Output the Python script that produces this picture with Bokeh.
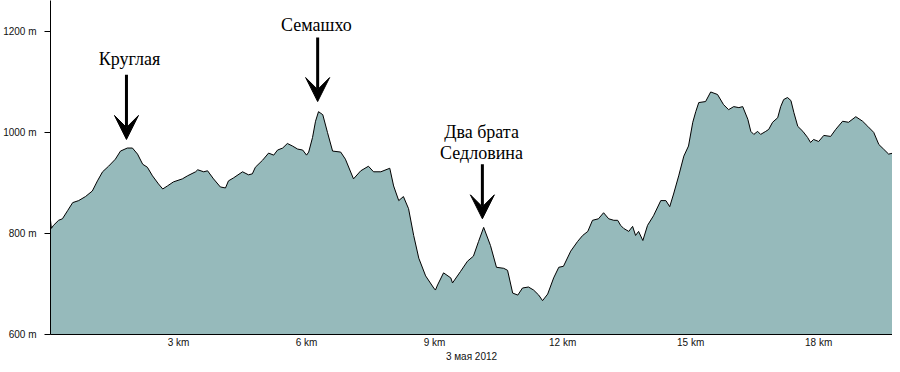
from bokeh.plotting import figure
from bokeh.models import (FixedTicker, PrintfTickFormatter, Arrow, VeeHead, Label, Range1d)
from bokeh.embed import file_html
from bokeh.resources import INLINE

# Elevation profile (distance in km, elevation in m)
dist_km = [0.00, 0.02, 0.07, 0.19, 0.28, 0.40, 0.52, 0.66, 0.82, 0.98, 1.10, 1.22, 1.36, 1.52, 1.64,
           1.80, 1.92, 2.04, 2.16, 2.27, 2.39, 2.53, 2.63, 2.74, 2.88, 3.09, 3.21, 3.40, 3.45, 3.59,
           3.68, 3.82, 3.98, 4.10, 4.17, 4.29, 4.50, 4.64, 4.73, 4.80, 4.97, 5.11, 5.23, 5.32, 5.44,
           5.55, 5.67, 5.79, 5.91, 6.00, 6.05, 6.14, 6.21, 6.28, 6.38, 6.49, 6.61, 6.80, 6.91, 7.10,
           7.27, 7.45, 7.57, 7.74, 7.95, 8.04, 8.16, 8.27, 8.39, 8.51, 8.63, 8.79, 8.98, 9.02, 9.07,
           9.21, 9.38, 9.42, 9.61, 9.77, 9.91, 10.03, 10.15, 10.31, 10.45, 10.62, 10.71, 10.83, 10.95,
           11.06, 11.20, 11.32, 11.44, 11.53, 11.65, 11.79, 11.91, 12.02, 12.19, 12.35, 12.47, 12.59,
           12.70, 12.84, 12.96, 13.08, 13.20, 13.29, 13.36, 13.43, 13.55, 13.64, 13.71, 13.78, 13.88,
           13.99, 14.13, 14.30, 14.42, 14.51, 14.60, 14.72, 14.84, 14.95, 15.05, 15.12, 15.19, 15.35,
           15.47, 15.63, 15.77, 15.89, 16.01, 16.13, 16.22, 16.34, 16.41, 16.48, 16.57, 16.64, 16.76,
           16.83, 16.92, 17.04, 17.11, 17.18, 17.27, 17.35, 17.42, 17.51, 17.63, 17.74, 17.81, 17.88,
           18.00, 18.12, 18.28, 18.40, 18.56, 18.70, 18.87, 19.03, 19.15, 19.29, 19.41, 19.52, 19.64,
           19.74, 19.85, 19.92]
elev_m = [826, 810, 816, 826, 829, 845, 861, 865, 873, 884, 904, 922, 933, 947, 963,
          969, 969, 957, 937, 931, 914, 898, 888, 894, 902, 908, 914, 922, 926, 922,
          924, 908, 892, 890, 904, 910, 922, 916, 918, 931, 945, 959, 955, 965, 969,
          978, 973, 967, 965, 955, 961, 990, 1022, 1041, 1035, 1000, 963, 961, 947, 908,
          924, 933, 922, 922, 929, 894, 865, 873, 849, 796, 751, 716, 692, 688, 698,
          722, 712, 702, 725, 745, 755, 784, 812, 776, 733, 731, 727, 682, 678,
          692, 694, 688, 678, 667, 680, 712, 733, 735, 765, 784, 796, 804,
          826, 829, 841, 829, 826, 826, 816, 810, 804, 814, 796, 804, 786,
          816, 835, 865, 865, 853, 878, 914, 953, 973, 1020, 1041, 1059, 1061,
          1080, 1075, 1055, 1045, 1051, 1049, 1051, 1026, 1002, 996, 1002, 996, 1002,
          1006, 1020, 1029, 1051, 1065, 1069, 1063, 1039, 1012, 1002, 990, 980, 986,
          982, 994, 992, 1006, 1022, 1020, 1031, 1022, 1012, 1000, 976, 967, 957,
          959, 951, 951]

y_ticks = [600, 800, 1000, 1200]
x_ticks = [3, 6, 9, 12, 15, 18]
x_label = "3 мая 2012"

# Annotations: names, arrow (km, top m, tip m), label anchors
peak_names = ["Круглая", "Семашхо", "Два брата", "Седловина"]
arrows = [(1.78, 1114, 986), (6.26, 1188, 1061), (10.12, 937, 829)]
label_pos = [(1.85, 1145), (6.23, 1212), (10.10, 1000), (10.10, 959)]

FILL = "#96BABB"

p = figure(width=892, height=364, output_backend="svg", toolbar_location=None,
           x_range=Range1d(0, 19.73), y_range=Range1d(600, 1261))
p.min_border_left = 50
p.min_border_bottom = 27
p.min_border_top = 0
p.min_border_right = 0
p.outline_line_color = None
p.xgrid.grid_line_color = None
p.ygrid.grid_line_color = None

p.varea(x=dist_km, y1=[600] * len(dist_km), y2=elev_m, fill_color=FILL)
p.line(dist_km, elev_m, line_color="black", line_width=1)

# axes
xa = p.xaxis[0]
xa.ticker = FixedTicker(ticks=x_ticks)
xa.formatter = PrintfTickFormatter(format="%d km")
xa.major_tick_out = 0
xa.major_tick_in = 0
xa.minor_tick_out = 0
xa.minor_tick_in = 0
xa.major_label_standoff = 2
xa.axis_label = x_label
xa.axis_label_standoff = 0
xa.axis_label_text_font_style = "normal"
xa.axis_label_text_font_size = "10px"
xa.axis_label_text_font = "Liberation Sans"
xa.axis_label_text_color = "#111111"
xa.major_label_text_font_size = "10px"
xa.major_label_text_font = "Liberation Sans"
xa.major_label_text_color = "#111111"
xa.axis_line_color = "black"

ya = p.yaxis[0]
ya.ticker = FixedTicker(ticks=y_ticks)
ya.formatter = PrintfTickFormatter(format="%d m")
ya.major_tick_out = 6
ya.major_tick_in = 0
ya.minor_tick_out = 0
ya.minor_tick_in = 0
ya.major_label_standoff = 8
ya.major_label_text_font_size = "10px"
ya.major_label_text_font = "Liberation Sans"
ya.major_label_text_color = "#111111"
ya.axis_line_color = "black"

for (ax, y0, y1) in arrows:
    p.add_layout(Arrow(end=VeeHead(size=24, fill_color="black", line_color="black", line_width=1),
                       x_start=ax, y_start=y0, x_end=ax, y_end=y1,
                       line_color="black", line_width=3))

for name, (lx, ly) in zip(peak_names, label_pos):
    p.add_layout(Label(x=lx, y=ly, text=name, text_align="center", text_baseline="alphabetic",
                       text_font="Liberation Serif", text_font_size="18px", text_color="black"))

open("out.html", "w").write(file_html(p, INLINE))
